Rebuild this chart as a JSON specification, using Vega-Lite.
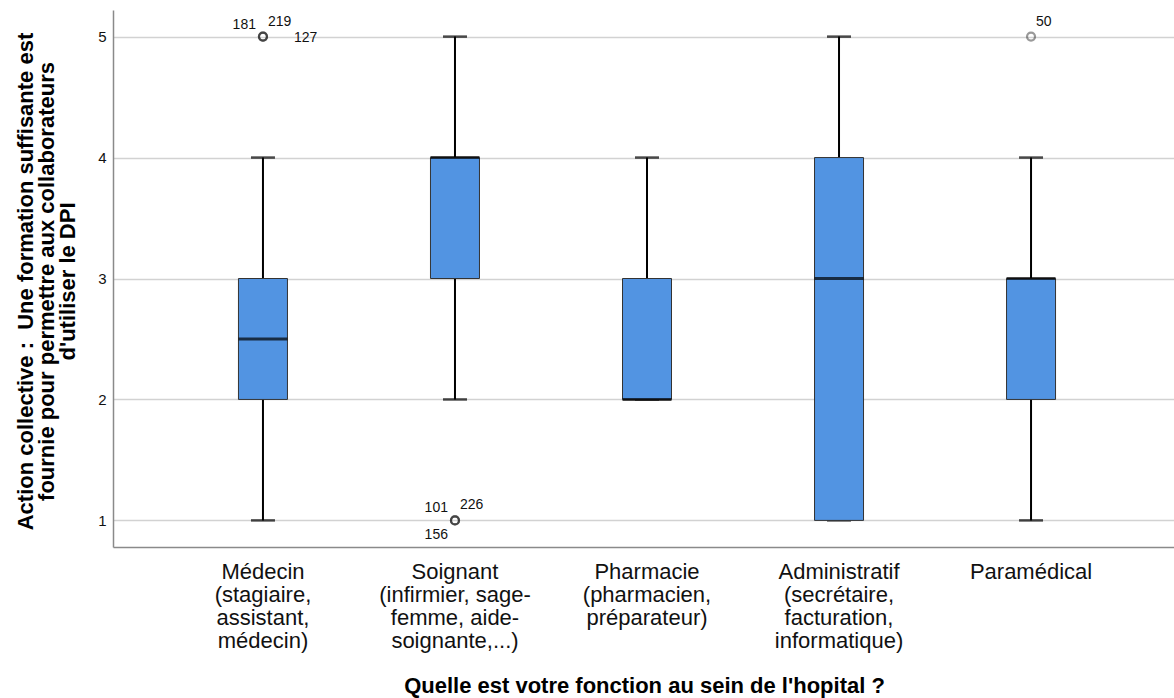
{
  "$schema": "https://vega.github.io/schema/vega-lite/v6.json",
  "width": 1061,
  "height": 537,
  "autosize": {"type": "none"},
  "padding": {"left": 113, "top": 10, "right": 0, "bottom": 151},
  "background": "white",
  "config": {
    "font": "Liberation Sans",
    "view": {"stroke": null},
    "axis": {"labelFont": "Liberation Sans", "titleFont": "Liberation Sans"}
  },
  "datasets": {
    "stats": [
      {"group": "Médecin", "lo": 1, "q1": 2, "median": 2.5, "q3": 3, "hi": 4},
      {"group": "Soignant", "lo": 2, "q1": 3, "median": 4, "q3": 4, "hi": 5},
      {"group": "Pharmacie", "lo": 2, "q1": 2, "median": 2, "q3": 3, "hi": 4},
      {"group": "Administratif", "lo": 1, "q1": 1, "median": 3, "q3": 4, "hi": 5},
      {"group": "Paramédical", "lo": 1, "q1": 2, "median": 3, "q3": 3, "hi": 4}
    ],
    "outliers": [
      {"group": "Médecin", "case": "181", "value": 5},
      {"group": "Médecin", "case": "219", "value": 5},
      {"group": "Médecin", "case": "127", "value": 5},
      {"group": "Soignant", "case": "101", "value": 1},
      {"group": "Soignant", "case": "226", "value": 1},
      {"group": "Soignant", "case": "156", "value": 1},
      {"group": "Paramédical", "case": "50", "value": 5}
    ]
  },
  "encoding": {
    "x": {
      "field": "group",
      "type": "nominal",
      "sort": ["Médecin", "Soignant", "Pharmacie", "Administratif", "Paramédical"],
      "scale": {"paddingInner": 0, "paddingOuter": 0.281, "range": [0, 1068]},
      "axis": {
        "title": "Quelle est votre fonction au sein de l'hopital ?",
        "titleFontSize": 22,
        "titleFontWeight": "bold",
        "titleColor": "#000000",
        "titleBaseline": "alphabetic",
        "titleY": 145,
        "titleX": 531,
        "labelAngle": 0,
        "labelFontSize": 22,
        "labelColor": "#111111",
        "labelLineHeight": 23,
        "labelPadding": 14,
        "labelBaseline": "top",
        "ticks": false,
        "domainColor": "#8a8a8a",
        "domainWidth": 1.5,
        "grid": false,
        "labelExpr": "datum.value == 'Médecin' ? ['Médecin', '(stagiaire,', 'assistant,', 'médecin)'] : datum.value == 'Soignant' ? ['Soignant', '(infirmier, sage-', 'femme, aide-', 'soignante,...)'] : datum.value == 'Pharmacie' ? ['Pharmacie', '(pharmacien,', 'préparateur)'] : datum.value == 'Administratif' ? ['Administratif', '(secrétaire,', 'facturation,', 'informatique)'] : datum.value"
      }
    }
  },
  "layer": [
    {
      "data": {"name": "stats"},
      "mark": {"type": "rule", "color": "#000000", "strokeWidth": 2},
      "encoding": {
        "y": {
          "field": "lo",
          "type": "quantitative",
          "scale": {"domain": [0.78, 5.22], "nice": false, "zero": false},
          "axis": {
            "values": [1, 2, 3, 4, 5],
            "format": "d",
            "title": ["Action collective : \u00a0Une formation suffisante est", "fournie pour permettre aux collaborateurs", "d'utiliser le DPI"],
            "titleFontSize": 22,
            "titleFontWeight": "bold",
            "titleColor": "#000000",
            "titleLineHeight": 21,
            "titleBaseline": "alphabetic",
            "titleAngle": -90,
            "titleX": -81,
            "titleY": 271,
            "titleAlign": "center",
            "labelFontSize": 15,
            "labelColor": "#111111",
            "labelPadding": 7,
            "ticks": false,
            "domainColor": "#8a8a8a",
            "domainWidth": 1.5,
            "grid": true,
            "gridColor": "#d2d2d2",
            "gridWidth": 1.5
          }
        },
        "y2": {"field": "hi"}
      }
    },
    {
      "data": {"name": "stats"},
      "mark": {"type": "tick", "color": "#000000", "thickness": 2.5, "size": 24, "orient": "horizontal"},
      "encoding": {"y": {"field": "hi", "type": "quantitative"}}
    },
    {
      "data": {"name": "stats"},
      "mark": {"type": "tick", "color": "#000000", "thickness": 2.5, "size": 24, "orient": "horizontal"},
      "encoding": {"y": {"field": "lo", "type": "quantitative"}}
    },
    {
      "data": {"name": "stats"},
      "mark": {"type": "bar", "width": 49, "color": "#5294e2", "stroke": "#333333", "strokeWidth": 1},
      "encoding": {
        "y": {"field": "q1", "type": "quantitative"},
        "y2": {"field": "q3"}
      }
    },
    {
      "data": {"name": "stats"},
      "mark": {"type": "tick", "color": "#000000", "thickness": 3, "size": 49, "orient": "horizontal"},
      "encoding": {"y": {"field": "median", "type": "quantitative"}}
    },
    {
      "data": {"name": "outliers"},
      "mark": {"type": "point", "shape": "circle", "filled": false, "stroke": "#222222", "strokeWidth": 2.2, "strokeOpacity": 0.65, "size": 64},
      "encoding": {"y": {"field": "value", "type": "quantitative"}}
    },
    {
      "data": {"name": "outliers"},
      "transform": [{"filter": "datum.case == '181' || datum.case == '101'"}],
      "mark": {"type": "text", "align": "right", "baseline": "alphabetic", "dx": -7, "dy": -8, "fontSize": 14, "color": "#111111"},
      "encoding": {"y": {"field": "value", "type": "quantitative"}, "text": {"field": "case"}}
    },
    {
      "data": {"name": "outliers"},
      "transform": [{"filter": "datum.case == '219' || datum.case == '226' || datum.case == '50'"}],
      "mark": {"type": "text", "align": "left", "baseline": "alphabetic", "dx": 5, "dy": -11, "fontSize": 14, "color": "#111111"},
      "encoding": {"y": {"field": "value", "type": "quantitative"}, "text": {"field": "case"}}
    },
    {
      "data": {"name": "outliers"},
      "transform": [{"filter": "datum.case == '127'"}],
      "mark": {"type": "text", "align": "left", "baseline": "alphabetic", "dx": 31, "dy": 5, "fontSize": 14, "color": "#111111"},
      "encoding": {"y": {"field": "value", "type": "quantitative"}, "text": {"field": "case"}}
    },
    {
      "data": {"name": "outliers"},
      "transform": [{"filter": "datum.case == '156'"}],
      "mark": {"type": "text", "align": "right", "baseline": "alphabetic", "dx": -7, "dy": 19, "fontSize": 14, "color": "#111111"},
      "encoding": {"y": {"field": "value", "type": "quantitative"}, "text": {"field": "case"}}
    }
  ]
}
